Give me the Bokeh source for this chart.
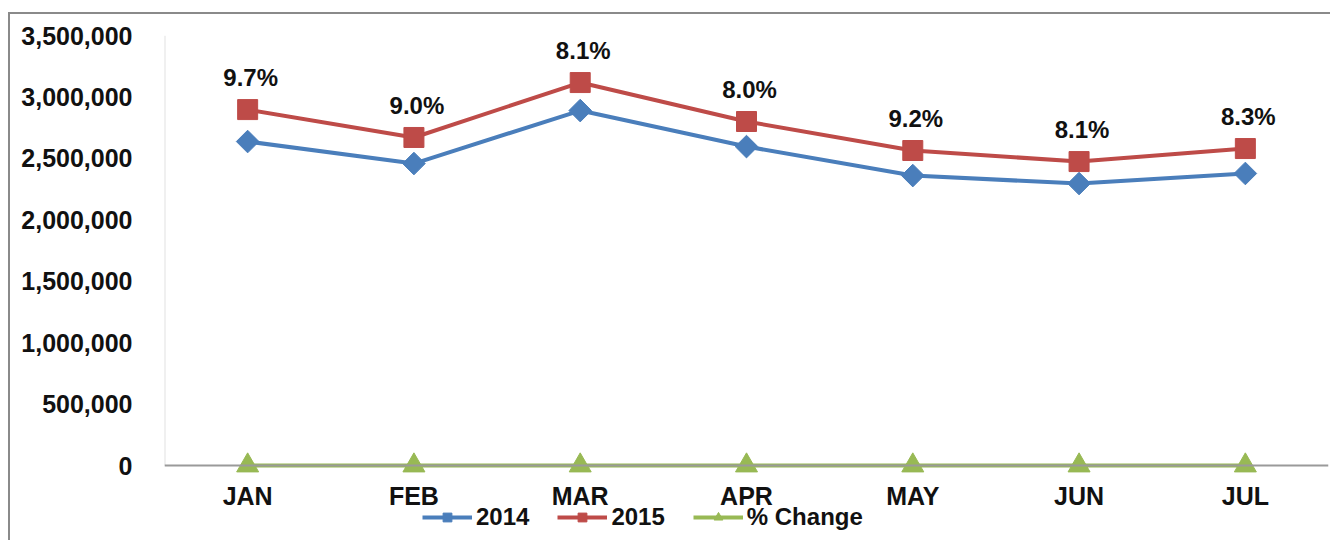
from bokeh.plotting import figure
from bokeh.models import (ColumnDataSource, FixedTicker, NumeralTickFormatter,
                          Legend, LegendItem, Range1d, FactorRange, BoxAnnotation)
from bokeh.core.properties import value
from bokeh.embed import file_html
from bokeh.resources import INLINE
import math

months = ["JAN", "FEB", "MAR", "APR", "MAY", "JUN", "JUL"]
y2014 = [2637000, 2458000, 2889000, 2596000, 2360000, 2295000, 2377000]
y2015 = [2897000, 2670000, 3117000, 2800000, 2564000, 2474000, 2580000]
pct_change = [0.097, 0.090, 0.081, 0.080, 0.092, 0.081, 0.083]
pct_labels = ["9.7%", "9.0%", "8.1%", "8.0%", "9.2%", "8.1%", "8.3%"]
y_ticks = [0, 500000, 1000000, 1500000, 2000000, 2500000, 3000000, 3500000]

FONT = "Liberation Sans"
BLUE = "#4A7EBB"
RED = "#BE4B48"
GREEN = "#98B954"
GRAY = "#9a9a9a"

src = ColumnDataSource(dict(m=months, a=y2014, b=y2015, c=pct_change, lab=pct_labels))

p = figure(width=1330, height=540, x_range=FactorRange(*months), y_range=Range1d(-610000, 3500000),
           output_backend="svg", toolbar_location=None,
           min_border_left=164, min_border_top=35, min_border_bottom=0, min_border_right=2)
p.styles = {"background": "linear-gradient(#8a8a8a,#8a8a8a) 8px 12px / 2px 100% no-repeat, "
                          "linear-gradient(#8a8a8a,#8a8a8a) 8px 12px / 100% 2px no-repeat, white"}
p.border_fill_alpha = 0
p.xgrid.visible = False
p.ygrid.visible = False
p.outline_line_color = None

p.yaxis.ticker = FixedTicker(ticks=y_ticks)
p.yaxis.formatter = NumeralTickFormatter(format="0,0")
p.yaxis.major_tick_line_color = None
p.yaxis.minor_tick_line_color = None
p.yaxis.major_label_standoff = 26
p.yaxis.axis_line_color = None
p.yaxis.major_label_text_font = FONT
p.yaxis.major_label_text_font_style = "bold"
p.yaxis.major_label_text_font_size = "25px"
p.yaxis.major_label_text_color = "#111111"

p.xaxis.fixed_location = 0
p.xaxis.major_tick_line_color = None
p.xaxis.minor_tick_line_color = None
p.xaxis.axis_line_color = GRAY
p.xaxis.axis_line_width = 2
p.xaxis.major_label_standoff = 10
p.xaxis.major_label_text_font = FONT
p.xaxis.major_label_text_font_style = "bold"
p.xaxis.major_label_text_font_size = "25px"
p.xaxis.major_label_text_color = "#111111"

# vertical value-axis line, from 0 up to the top of the scale
p.add_layout(BoxAnnotation(left=0, right=0, bottom=y_ticks[0], top=y_ticks[-1],
                           fill_alpha=0, line_color=GRAY, line_width=2))

l1 = p.line("m", "a", source=src, line_color=BLUE, line_width=4)
s1 = p.scatter("m", "a", source=src, marker="square", size=16, angle=math.pi / 4,
               fill_color=BLUE, line_color=BLUE)
l2 = p.line("m", "b", source=src, line_color=RED, line_width=4)
s2 = p.scatter("m", "b", source=src, marker="square", size=20, fill_color=RED, line_color=RED)
l3 = p.line("m", "c", source=src, line_color=GREEN, line_width=4)
s3 = p.scatter("m", "c", source=src, marker="triangle", size=22, fill_color=GREEN, line_color=GREEN)

p.text("m", "b", text="lab", source=src, text_align="center", text_baseline="middle",
       y_offset=-32, x_offset=3, text_font=value(FONT), text_font_style="bold",
       text_font_size="24px", text_color="#111111")

legend = Legend(items=[LegendItem(label="2014", renderers=[l1, s1]),
                       LegendItem(label="2015", renderers=[l2, s2]),
                       LegendItem(label="% Change", renderers=[l3, s3])],
                orientation="horizontal", location=(258, 9),
                glyph_width=50, glyph_height=22, label_standoff=4, spacing=28,
                padding=0, margin=0, border_line_color=None, background_fill_alpha=0,
                label_text_font=FONT, label_text_font_style="bold",
                label_text_font_size="24px", label_text_color="#111111")
p.add_layout(legend, "center")

open("out.html", "w").write(file_html(p, INLINE))
